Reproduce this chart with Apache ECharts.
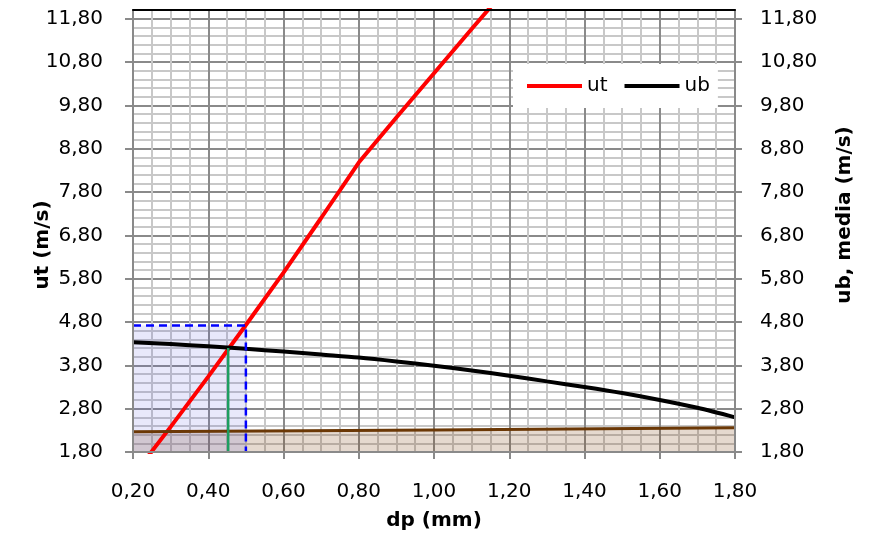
<!DOCTYPE html>
<html><head><meta charset="utf-8">
<script src="https://cdn.jsdelivr.net/npm/echarts@6/dist/echarts.min.js"></script>
<style>html,body{margin:0;padding:0;background:#fff}#c{width:872px;height:546px}</style>
</head><body><div id="c"></div>
<script>
// ---- data ----
const dpUt = [0.2, 0.3, 0.4, 0.5, 0.6, 0.7, 0.8, 0.9, 1.0, 1.1, 1.2];
const utVals = [1.25, 2.38, 3.54, 4.73, 5.94, 7.20, 8.48, 9.52, 10.54, 11.56, 12.57];
const dpUb = [0.2, 0.3, 0.4, 0.5, 0.6, 0.7, 0.8, 0.9, 1.0, 1.1, 1.2, 1.3, 1.4, 1.5, 1.6, 1.7, 1.8];
const ubVals = [4.33, 4.29, 4.24, 4.18, 4.12, 4.05, 3.98, 3.89, 3.79, 3.68, 3.56, 3.43, 3.30, 3.16, 3.00, 2.82, 2.60];
const dpMedia = [0.2, 1.0, 1.8];
const mediaVals = [2.27, 2.31, 2.36];
const selDp = [0.2, 0.5, 0.5];
const selUt = [4.72, 4.72, 1.8];
const intDp = [0.453, 0.453];
const intVals = [1.8, 4.20];
const xTickLabels = [0.2, 0.4, 0.6, 0.8, 1.0, 1.2, 1.4, 1.6, 1.8];
const yTickLabels = [1.8, 2.8, 3.8, 4.8, 5.8, 6.8, 7.8, 8.8, 9.8, 10.8, 11.8];

const pairs = (xs, ys) => xs.map((x, i) => [x, ys[i]]);
const fmt = v => Number(v).toFixed(2).replace('.', ',');
const FONT = 'DejaVu Sans';
const MAJ = '#8a8a8a', MIN = '#c8c8c8';
const hidden = {axisLine: {show: false}, axisTick: {show: false}, axisLabel: {show: false}};

const chart = echarts.init(document.getElementById('c'), null, {renderer: 'canvas'});
chart.setOption({
  animation: false,
  backgroundColor: '#fff',
  grid: {left: 133, right: 137, top: 10, bottom: 94, containLabel: false},
  legend: {
    left: 513, top: 64, padding: [12, 8, 12, 14], backgroundColor: '#fff',
    itemWidth: 55, itemHeight: 4, itemGap: 17,
    textStyle: {fontFamily: FONT, fontSize: 20, color: '#000'},
    data: [{name: 'ut', icon: 'rect'}, {name: 'ub', icon: 'rect'}]
  },
  xAxis: [{
    type: 'value', min: 0.2, max: 1.8, position: 'bottom',
    name: 'dp (mm)', nameLocation: 'middle', nameGap: 59, nameMoveOverlap: false,
    nameTextStyle: {fontFamily: FONT, fontSize: 20, fontWeight: 'bold', color: '#000'},
    axisLine: {lineStyle: {color: MAJ, width: 2}},
    axisTick: {show: true, length: 7, lineStyle: {color: MAJ, width: 2}, customValues: xTickLabels},
    axisLabel: {fontFamily: FONT, fontSize: 20, color: '#000', margin: 30, customValues: xTickLabels, formatter: fmt},
    splitLine: {show: false}, z: 5
  }, {
    type: 'value', min: 0.2, max: 1.8, position: 'top',
    axisLine: {show: true, lineStyle: {color: '#000', width: 2}},
    axisTick: {show: false}, axisLabel: {show: false}, splitLine: {show: false}, z: 5
  }, Object.assign({
    type: 'value', min: 0.2, max: 1.8, interval: 0.05, position: 'bottom',
    splitLine: {show: true, lineStyle: {width: 2, color: [MAJ, MIN, MIN, MIN]}}, z: 0
  }, hidden)],
  yAxis: [{
    type: 'value', min: 1.8, max: 12, position: 'left',
    name: 'ut (m/s)', nameLocation: 'middle', nameGap: 80, nameRotate: 90, nameMoveOverlap: false,
    nameTextStyle: {fontFamily: FONT, fontSize: 20, fontWeight: 'bold', color: '#000', padding: [0, 28, 0, 0]},
    axisLine: {show: true, lineStyle: {color: MAJ, width: 2}},
    axisTick: {show: true, length: 8, lineStyle: {color: MAJ, width: 2}, customValues: yTickLabels},
    axisLabel: {fontFamily: FONT, fontSize: 20, color: '#000', margin: 30, customValues: yTickLabels, formatter: fmt},
    splitLine: {show: false}, z: 5
  }, {
    type: 'value', min: 1.8, max: 12, position: 'right',
    name: 'ub, media (m/s)', nameLocation: 'middle', nameGap: 100, nameRotate: 90, nameMoveOverlap: false,
    nameTextStyle: {fontFamily: FONT, fontSize: 20, fontWeight: 'bold', color: '#000', padding: [0, 0, 0, 32]},
    axisLine: {show: true, lineStyle: {color: MAJ, width: 2}},
    axisTick: {show: true, length: 7, lineStyle: {color: MAJ, width: 2}, customValues: yTickLabels},
    axisLabel: {fontFamily: FONT, fontSize: 20, color: '#000', margin: 25, customValues: yTickLabels, formatter: fmt},
    splitLine: {show: false}, z: 5
  }, Object.assign({
    type: 'value', min: 1.8, max: 12, interval: 0.2, position: 'left',
    splitLine: {show: true, lineStyle: {width: 2, color: [MAJ, MIN, MIN, MIN, MIN]}}, z: 0
  }, hidden)],
  series: [
    {name: 'ut', type: 'line', yAxisIndex: 0, data: pairs(dpUt, utVals), showSymbol: false,
     lineStyle: {color: '#ff0000', width: 4}, itemStyle: {color: '#ff0000'}},
    {name: 'ub', type: 'line', yAxisIndex: 1, data: pairs(dpUb, ubVals), showSymbol: false, smooth: 0.3,
     lineStyle: {color: '#000', width: 4}, itemStyle: {color: '#000'}},
    {name: 'media', type: 'line', yAxisIndex: 1, data: pairs(dpMedia, mediaVals), showSymbol: false,
     lineStyle: {color: '#6b3806', width: 3}, areaStyle: {origin: 'start', color: 'rgba(120,60,10,0.28)'}},
    {name: 'sel', type: 'line', yAxisIndex: 0, data: pairs(selDp, selUt), showSymbol: false,
     lineStyle: {color: '#0000ff', width: 2.5, type: [8, 5]}, areaStyle: {origin: 'start', color: 'rgba(90,90,230,0.2)'}},
    {name: 'int', type: 'line', yAxisIndex: 0, data: pairs(intDp, intVals), showSymbol: false,
     lineStyle: {color: '#1e9e60', width: 2.5}}
  ]
});
</script></body></html>
